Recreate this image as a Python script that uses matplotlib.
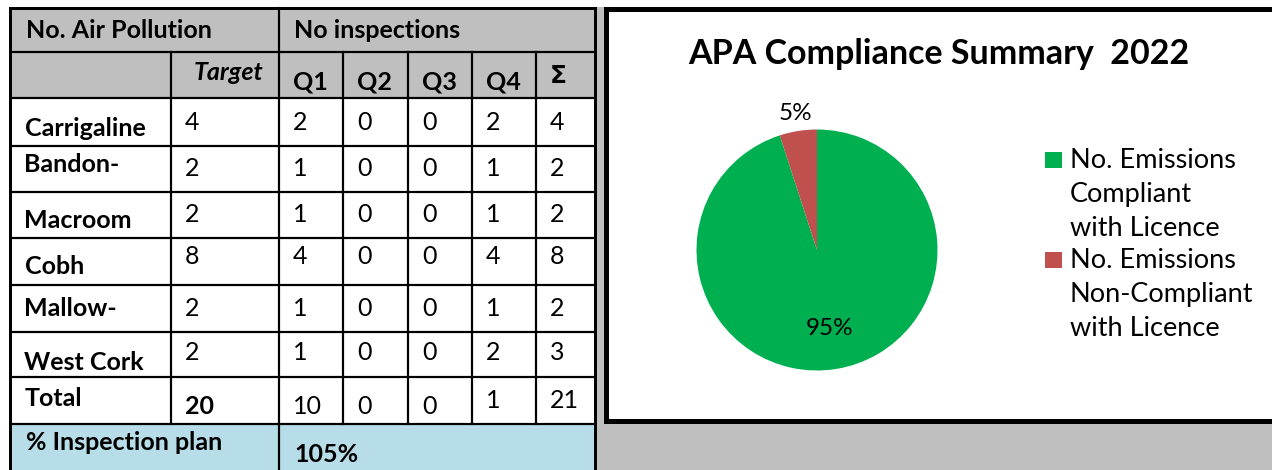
import numpy as np
import matplotlib.pyplot as plt
from matplotlib.patches import Rectangle

plt.rcParams['font.family'] = ['Lato', 'DejaVu Sans']

# ---- table data ----
districts = ['Carrigaline', 'Bandon-', 'Macroom', 'Cobh', 'Mallow-', 'West Cork']
target = [4, 2, 2, 8, 2, 2]
q1 = [2, 1, 1, 4, 1, 1]
q2 = [0, 0, 0, 0, 0, 0]
q3 = [0, 0, 0, 0, 0, 0]
q4 = [2, 1, 1, 4, 1, 2]
sigma = [4, 2, 2, 8, 2, 3]
total_row = ['Total', 20, 10, 0, 0, 1, 21]
quarters = ['Q1', 'Q2', 'Q3', 'Q4', 'Σ']
plan_label = '% Inspection plan'
plan_value = '105%'

# ---- pie data ----
title = 'APA Compliance Summary  2022'
pie_labels = ['No. Emissions\nCompliant\nwith Licence',
              'No. Emissions\nNon-Compliant\nwith Licence']
shares = [95, 5]
pie_colors = ['#00B050', '#C0504D']

W, H = 1272, 470
fig = plt.figure(figsize=(W / 100, H / 100), dpi=100)
ax = fig.add_axes([0, 0, 1, 1])
ax.set_xlim(0, W)
ax.set_ylim(H, 0)
ax.axis('off')

GREY = '#BFBFBF'
BLUE = '#B7DDE8'
px = 72 / 100  # points per pixel

# layout (pixels)
cols = [9.5, 171, 279, 343, 408, 472, 536, 594.5]
rows = [7.5, 52, 98, 146, 192, 238, 285, 332, 377, 424, 480]
name_y = [129, 164, 220, 267, 308, 362]
num_y = [122, 169, 215, 257, 309, 353]
fs = 18

# grey background right of the table, chart box
ax.add_patch(Rectangle((594, 7), W - 594, H, color=GREY, lw=0))
ax.add_patch(Rectangle((606, 8.5), W + 10 - 606, 412, facecolor='white',
                       edgecolor='black', lw=5 * px))

# fills
ax.add_patch(Rectangle((cols[0], rows[0]), cols[-1] - cols[0], rows[2] - rows[0],
                       color=GREY, lw=0))
ax.add_patch(Rectangle((cols[0], rows[9]), cols[-1] - cols[0], rows[10] - rows[9],
                       color=BLUE, lw=0))

# grid lines
lw = 2.2 * px
for y in rows[1:10]:
    ax.plot([cols[0], cols[-1]], [y, y], color='black', lw=lw, solid_capstyle='butt')
ax.plot([cols[0], cols[-1]], [rows[0], rows[0]], color='black', lw=3 * px)
for x in [cols[0], cols[-1]]:
    ax.plot([x, x], [rows[0], H], color='black', lw=3 * px)
ax.plot([cols[2], cols[2]], [rows[0], H], color='black', lw=lw)
ax.plot([cols[1], cols[1]], [rows[1], rows[9]], color='black', lw=lw)
for x in cols[3:7]:
    ax.plot([x, x], [rows[1], rows[9]], color='black', lw=lw)

# header text
ax.text(cols[0] + 16, 30, 'No. Air Pollution', fontsize=fs, fontweight='bold', va='center')
ax.text(cols[2] + 15, 30, 'No inspections', fontsize=fs, fontweight='bold', va='center')
ax.text(cols[2] - 16, 73, 'Target', fontsize=fs, fontweight='bold', style='italic',
        va='center', ha='right')
for i, q in enumerate(quarters):
    ax.text(cols[2 + i] + 14, 82 if q != 'Σ' else 76, q, fontsize=fs,
            fontweight='bold', va='center',
            family=['DejaVu Sans'] if q == 'Σ' else None)

# body
for r, name in enumerate(districts):
    ax.text(cols[0] + 15, name_y[r], name, fontsize=fs, fontweight='bold', va='center')
    vals = [target[r], q1[r], q2[r], q3[r], q4[r], sigma[r]]
    for c, v in enumerate(vals):
        ax.text(cols[1 + c] + 14, num_y[r], str(v), fontsize=fs, va='center')

ax.text(cols[0] + 15, 399, total_row[0], fontsize=fs, fontweight='bold', va='center')
for c, v in enumerate(total_row[1:]):
    ax.text(cols[1 + c] + 14, 407 if c < 4 else 400, str(v), fontsize=fs,
            fontweight='bold' if c == 0 else 'normal', va='center')

ax.text(cols[0] + 16, 443, plan_label, fontsize=fs, fontweight='bold', va='center')
ax.text(cols[2] + 15, 455, plan_value, fontsize=fs, fontweight='bold', va='center')

# ---- pie ----
ax.text(939, 54, title, fontsize=24.5, fontweight='bold', ha='center', va='center')

cx, cy, rad = 817, 250, 120.5
pax = fig.add_axes([(cx - rad) / W, (H - cy - rad) / H, 2 * rad / W, 2 * rad / H])
wedges, _ = pax.pie(shares, colors=pie_colors, startangle=90, counterclock=False,
                    wedgeprops=dict(lw=0))
pax.set_xlim(-1, 1)
pax.set_ylim(-1, 1)
dist = [0.66, 1.15]
for w, v, d in zip(wedges, shares, dist):
    ang = np.deg2rad((w.theta1 + w.theta2) / 2)
    pax.text(d * np.cos(ang), d * np.sin(ang), f'{v / sum(shares) * 100:.0f}%',
             fontsize=17.5, ha='center', va='center', clip_on=False)

# legend
for i, (lab, col) in enumerate(zip(pie_labels, pie_colors)):
    y0 = 160 + i * 100
    ax.add_patch(Rectangle((1045, y0 - 8), 17, 16, color=col, lw=0))
    for k, line in enumerate(lab.split('\n')):
        ax.text(1070, y0 + k * 34.5, line, fontsize=19.5, va='center')

fig.savefig('out.png', dpi=100)
